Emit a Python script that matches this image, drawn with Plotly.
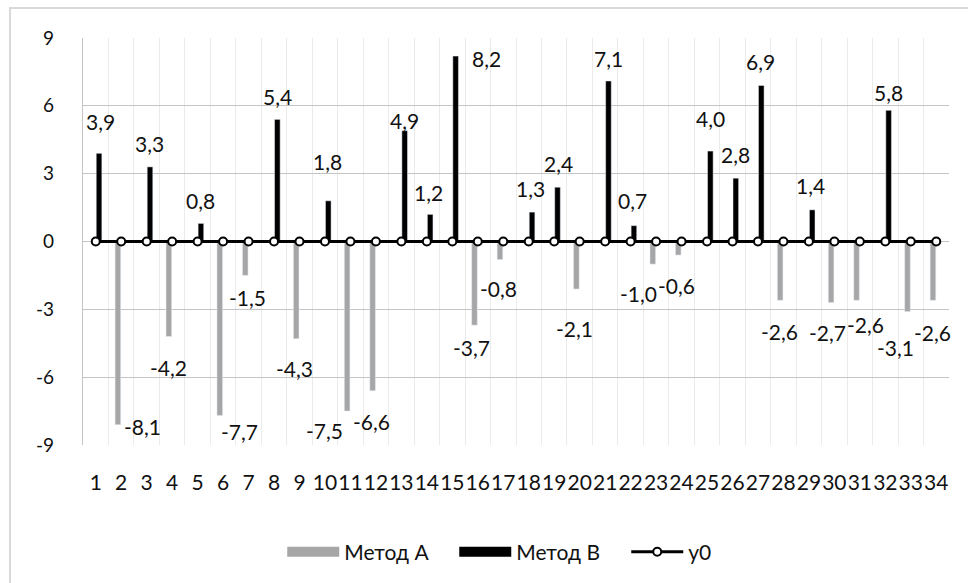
import plotly.graph_objects as go

# ---- data ----
categories = [str(i) for i in range(1, 35)]
metod_a = [None, -8.1, None, -4.2, None, -7.7, -1.5, None, -4.3, None, -7.5, -6.6,
           None, None, None, -3.7, -0.8, None, None, -2.1, None, None, -1.0, -0.6,
           None, None, None, -2.6, None, -2.7, -2.6, None, -3.1, -2.6]
metod_b = [3.9, None, 3.3, None, 0.8, None, None, 5.4, None, 1.8, None, None,
           4.9, 1.2, 8.2, None, None, 1.3, 2.4, None, 7.1, 0.7, None, None,
           4.0, 2.8, 6.9, None, 1.4, None, None, 5.8, None, None]
y0 = [0] * 34
y_ticks = [-9, -6, -3, 0, 3, 6, 9]

# label offsets in pixels (manual label placement as in the source chart)
label_dx = [5, 21, 3, -4, 3, 16, -1, 3, -5, 3, -26, -4, 3, 2, 34, -6, -5, 2, 4, -5,
            3, 2, -18, -5, 3, 3, 3, -4, 2, -7, 6, 3, -15, -4]
label_dy = [32, -2, 23, -31, 23, -16, -22, 23, -30, 39, -19, -31, 10, 22, -2, -22, -29,
            24, 24, -40, 22, 25, -29, -30, 33, 24, 24, -31, 24, -30, -24, 18, -36, -32]

FONT = "Lato, Carlito, Calibri, sans-serif"
GRAY = "#a6a6a6"

fig = go.Figure()
fig.add_trace(go.Bar(x=categories, y=metod_a, name="Метод A", marker_color=GRAY,
                     showlegend=False, width=0.22, offset=-0.24))
fig.add_trace(go.Bar(x=categories, y=metod_b, name="Метод B", marker_color="#000000",
                     showlegend=False, width=0.22, offset=0.02))
# legend proxies
fig.add_trace(go.Scatter(x=[None], y=[None], mode="lines", name="Метод A",
                         line=dict(color=GRAY, width=11)))
fig.add_trace(go.Scatter(x=[None], y=[None], mode="lines", name="Метод B",
                         line=dict(color="#000000", width=11)))
fig.add_trace(go.Scatter(x=categories, y=y0, mode="lines+markers", name="y0",
                         line=dict(color="#000000", width=2.8),
                         marker=dict(symbol="circle", size=8, color="white",
                                     line=dict(color="#000000", width=2))))

annotations = []
for i, c in enumerate(categories):
    v = metod_a[i] if metod_a[i] is not None else metod_b[i]
    annotations.append(dict(
        x=i, y=v, xref="x", yref="y", showarrow=False,
        text=f"{v:.1f}".replace(".", ","),
        xshift=label_dx[i], yshift=label_dy[i],
        font=dict(family=FONT, size=21, color="#111111"),
        xanchor="center", yanchor="middle"))

fig.update_layout(
    width=968, height=583,
    margin=dict(l=83, r=19, t=38, b=137),
    paper_bgcolor="white", plot_bgcolor="white",
    barmode="overlay",
    font=dict(family=FONT, color="#111111"),
    annotations=annotations,
    xaxis=dict(type="category", tickson="boundaries", showgrid=True,
               gridcolor="#ebebeb", gridwidth=1, ticks="", showline=False,
               zeroline=False, tickfont=dict(size=21), ticklabelstandoff=23,
               tickangle=0, range=[-0.5, 33.5]),
    yaxis=dict(range=[-9, 9], tickvals=y_ticks, ticktext=[str(t) for t in y_ticks],
               showgrid=True, gridcolor="#c4c4c4", gridwidth=1.3,
               zeroline=True, zerolinecolor="#c4c4c4", zerolinewidth=1,
               showline=True, linecolor="#c4c4c4", linewidth=1.3,
               ticks="", tickfont=dict(size=19), ticklabelstandoff=24),
    legend=dict(orientation="h", x=0.528, xanchor="center", y=-0.26, yanchor="middle",
                font=dict(size=21), itemwidth=52, traceorder="normal",
                entrywidth=105, entrywidthmode="pixels"),
    shapes=[dict(type="rect", xref="paper", yref="paper",
                 x0=-0.0843, x1=1.2, y0=-0.5, y1=1.0735,
                 line=dict(color="#d9d9d9", width=2), layer="below")],
)

fig.write_html("out.html")
